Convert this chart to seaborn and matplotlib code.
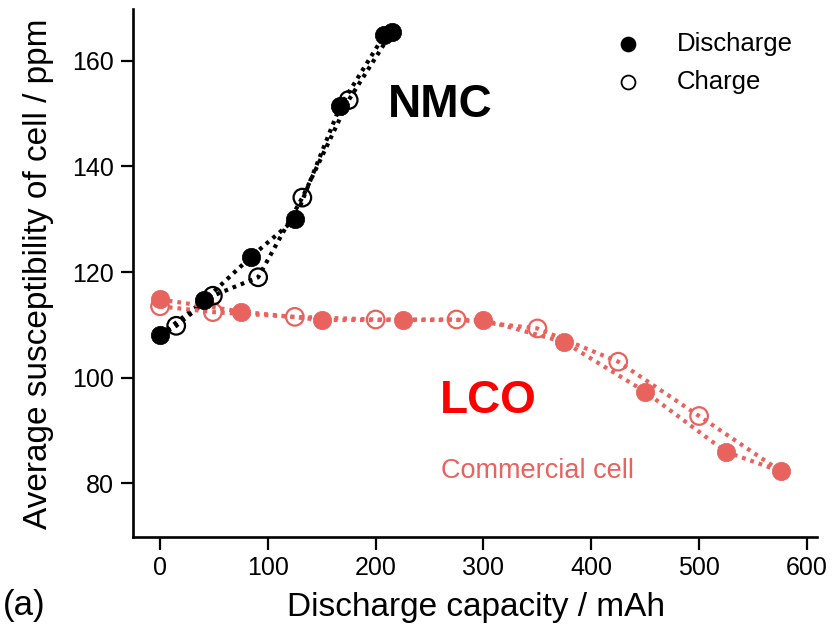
import matplotlib
matplotlib.use("Agg")
import matplotlib.pyplot as plt
import seaborn as sns
import pandas as pd
from matplotlib.lines import Line2D

# ---- data ----
nmc_dis_x = [0, 41, 84, 125, 167, 208, 215]
nmc_dis_y = [108.0, 114.6, 122.8, 130.0, 151.4, 164.9, 165.5]
nmc_chg_x = [15, 49, 91, 132, 175]
nmc_chg_y = [109.8, 115.5, 119.0, 134.1, 152.6]

lco_dis_x = [0, 75, 150, 225, 300, 375, 450, 525, 576]
lco_dis_y = [114.8, 112.5, 110.9, 110.9, 110.9, 106.7, 97.3, 85.9, 82.2]
lco_chg_x = [0, 49, 125, 200, 275, 350, 425, 500]
lco_chg_y = [113.5, 112.4, 111.5, 111.0, 111.0, 109.3, 103.0, 92.7]

x_ticks = [0, 100, 200, 300, 400, 500, 600]
y_ticks = [80, 100, 120, 140, 160]

BLACK = "#000000"
RED = "#E8625E"

sns.set_style("ticks")
plt.rcParams["font.family"] = ["Liberation Sans", "DejaVu Sans"]
plt.rcParams["text.color"] = "black"
plt.rcParams["axes.labelcolor"] = "black"

fig = plt.figure(figsize=(8.32, 6.32), dpi=100)
ax = fig.add_axes([0.1599, 0.1511, 0.822, 0.8342])

dot = (0, (0.9, 1.2))

def line(xs, ys, color):
    df = pd.DataFrame({"x": xs, "y": ys})
    sns.lineplot(data=df, x="x", y="y", ax=ax, color=color, lw=3.0,
                 linestyle=dot, sort=False, estimator=None)

# NMC lines
line(nmc_dis_x, nmc_dis_y, BLACK)
line([nmc_dis_x[0]] + nmc_chg_x + [nmc_dis_x[-1]],
     [nmc_dis_y[0]] + nmc_chg_y + [nmc_dis_y[-1]], BLACK)
# LCO lines
line(lco_dis_x, lco_dis_y, RED)
line(lco_chg_x + [lco_dis_x[-1]], lco_chg_y + [lco_dis_y[-1]], RED)

def pts(xs, ys, color, filled):
    df = pd.DataFrame({"x": xs, "y": ys})
    if filled:
        sns.scatterplot(data=df, x="x", y="y", ax=ax, s=175, color=color,
                        edgecolor=color, linewidth=0.5, zorder=4)
    else:
        sns.scatterplot(data=df, x="x", y="y", ax=ax, s=160, facecolors="none",
                        edgecolor=color, linewidth=1.6, zorder=4)

pts(lco_chg_x, lco_chg_y, RED, False)
pts(lco_dis_x, lco_dis_y, RED, True)
pts(nmc_chg_x, nmc_chg_y, BLACK, False)
pts(nmc_dis_x, nmc_dis_y, BLACK, True)

ax.set_xlim(-25.05, 609.3)
ax.set_ylim(69.86, 169.8)
ax.set_xticks(x_ticks)
ax.set_yticks(y_ticks)
ax.tick_params(direction="out", length=9, width=1.6, colors="black",
               labelsize=18, pad=5)
for s in ["top", "right"]:
    ax.spines[s].set_visible(False)
for s in ["left", "bottom"]:
    ax.spines[s].set_linewidth(1.9)
    ax.spines[s].set_color("black")

ax.set_xlabel("Discharge capacity / mAh", fontsize=24, color="black")
ax.set_ylabel("Average susceptibility of cell / ppm", fontsize=24, color="black")
ax.xaxis.label.set_va("center")
ax.yaxis.label.set_va("center")
ax.xaxis.set_label_coords(0.5015, -0.134)
ax.yaxis.set_label_coords(-0.138, 0.498)

ax.text(260, 151.7, "NMC", fontsize=33, fontweight="bold", color="black",
        ha="center", va="center")
ax.text(304.5, 95.6, "LCO", fontsize=33, fontweight="bold", color="#FF0000",
        ha="center", va="center")
ax.text(350, 82.3, "Commercial cell", fontsize=19.5, color=RED,
        ha="center", va="center")

# legend
lg_items = [("Discharge", True, 44), ("Charge", False, 82)]
for label, filled, ypix in lg_items:
    fig.add_artist(Line2D([628/832], [1-ypix/632], marker="o", markersize=10,
                          markerfacecolor="black" if filled else "white",
                          markeredgecolor="black", markeredgewidth=1.3,
                          linestyle="none", transform=fig.transFigure))
    fig.text(677/832, 1-ypix/632, label, fontsize=18.5, color="black",
             ha="left", va="center")

fig.text(3/832, 1-606/632, "(a)", fontsize=25, color="black",
         ha="left", va="center")

fig.savefig("out.png", dpi=100)
